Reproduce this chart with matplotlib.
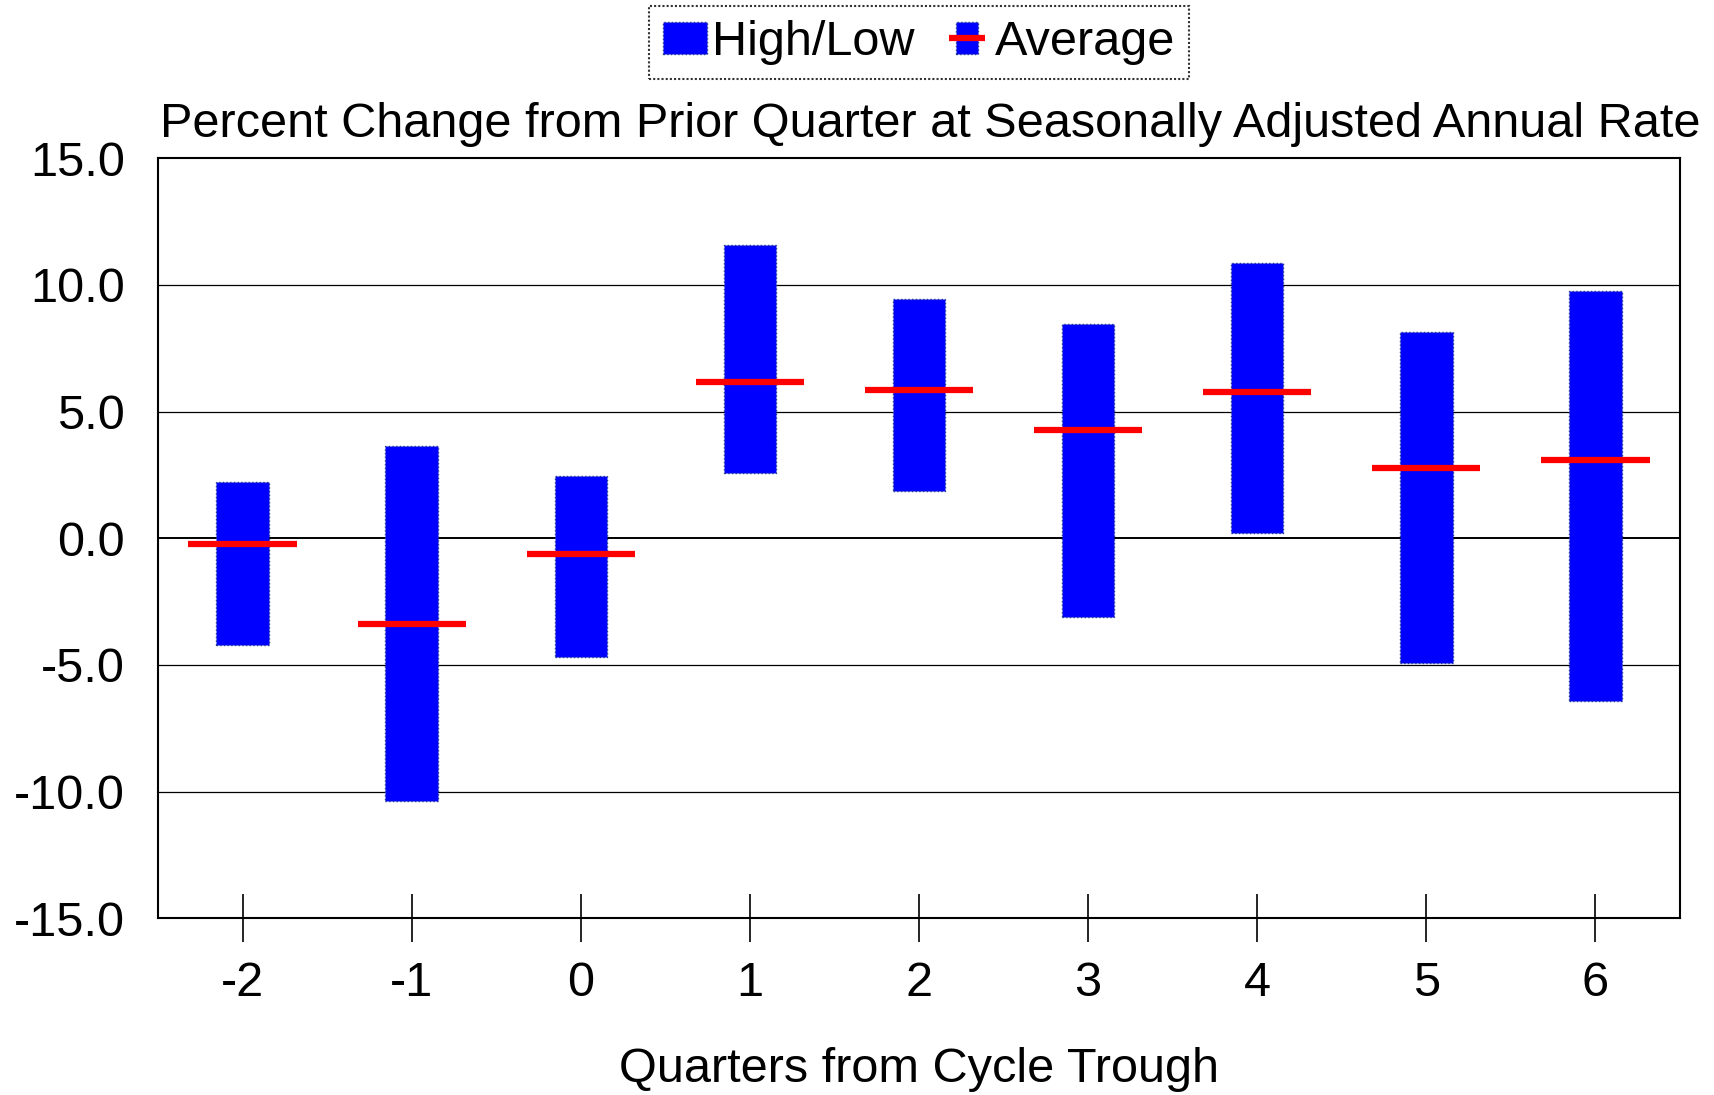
import matplotlib
matplotlib.use('Agg')
import matplotlib.pyplot as plt
from matplotlib.patches import Rectangle, Patch
from matplotlib.lines import Line2D
from matplotlib.legend_handler import HandlerBase

# ---- data ----
quarters = [-2, -1, 0, 1, 2, 3, 4, 5, 6]
quarter_labels = [str(q) for q in quarters]
high = [2.21, 3.65, 2.44, 11.59, 9.46, 8.45, 10.88, 8.13, 9.77]
low = [-4.21, -10.38, -4.70, 2.59, 1.87, -3.11, 0.20, -4.91, -6.42]
average = [-0.23, -3.38, -0.61, 6.17, 5.87, 4.29, 5.78, 2.79, 3.09]
ytick_values = [-15, -10, -5, 0, 5, 10, 15]
ytick_labels = ['%.1f' % v for v in ytick_values]
title = 'Percent Change from Prior Quarter at Seasonally Adjusted Annual Rate'
xlabel = 'Quarters from Cycle Trough'
legend_labels = ['High/Low', 'Average']

plt.rcParams['font.family'] = ['Liberation Sans', 'DejaVu Sans']

BLUE = '#0000ff'
EDGE = '#203a8a'
RED = '#ff0000'
FS = 35

W, H = 1715, 1095
fig = plt.figure(figsize=(W / 100, H / 100), dpi=100)
ax = fig.add_axes([158 / W, 1 - 918.3 / H, (1680 - 158) / W, (918.3 - 158.3) / H])

for v in ytick_values:
    if v in (ytick_values[0], ytick_values[-1]):
        continue
    ax.axhline(v, color='black', lw=1.4 if v == 0 else 0.9, zorder=1)

heights = [h - l for h, l in zip(high, low)]
ax.bar(quarters, heights, bottom=low, width=0.31, color=BLUE, edgecolor=EDGE,
       linewidth=1.0, linestyle=':', zorder=2)
ax.hlines(average, [q - 0.32 for q in quarters], [q + 0.32 for q in quarters],
          colors=RED, lw=4.5, zorder=3, capstyle='butt')

ax.set_xlim(-2.5, 6.5)
ax.set_ylim(-15, 15)
ax.set_xticks(quarters, quarter_labels)
ax.set_yticks(ytick_values, ytick_labels)
ax.tick_params(axis='x', direction='inout', length=34, width=1.2, pad=14,
               labelsize=FS, colors='black')
ax.tick_params(axis='y', length=0, pad=24, labelsize=FS)
for s in ax.spines.values():
    s.set_linewidth(1.5)
    s.set_color('black')

fig.text(160 / W, 1 - 124.5 / H, title, fontsize=FS, ha='left', va='center')
fig.text(919 / W, 1 - 1069 / H, xlabel, fontsize=FS, ha='center', va='center')


class AverageHandler(HandlerBase):
    def create_artists(self, legend, orig_handle, xdescent, ydescent, width,
                       height, fontsize, trans):
        rect = Rectangle((-xdescent + width * 0.255, -ydescent), width * 0.49, height,
                         facecolor=BLUE, edgecolor=EDGE, linestyle=':', lw=1.0,
                         transform=trans)
        line = Line2D([-xdescent + width * 0.09, -xdescent + width * 0.91],
                      [height / 2 - ydescent] * 2, color=RED, lw=4.5,
                      solid_capstyle='butt', transform=trans)
        return [rect, line]


hl_patch = Patch(facecolor=BLUE, edgecolor=EDGE, linestyle=':', linewidth=1.0)
avg_handle = Line2D([], [], color=RED)
leg = fig.legend([hl_patch, avg_handle], legend_labels, loc='upper center',
                 bbox_to_anchor=(919 / W, 1 - 6.4 / H), ncol=2, fontsize=FS,
                 frameon=True, fancybox=False, edgecolor='black', borderpad=0.28,
                 handlelength=0.9, handleheight=0.64, handletextpad=0.12,
                 columnspacing=0.62, borderaxespad=0,
                 handler_map={avg_handle: AverageHandler()})
fr = leg.get_frame()
fr.set_linewidth(1.5)
fr.set_linestyle((0, (1, 1)))

fig.savefig('out.png', dpi=100)
